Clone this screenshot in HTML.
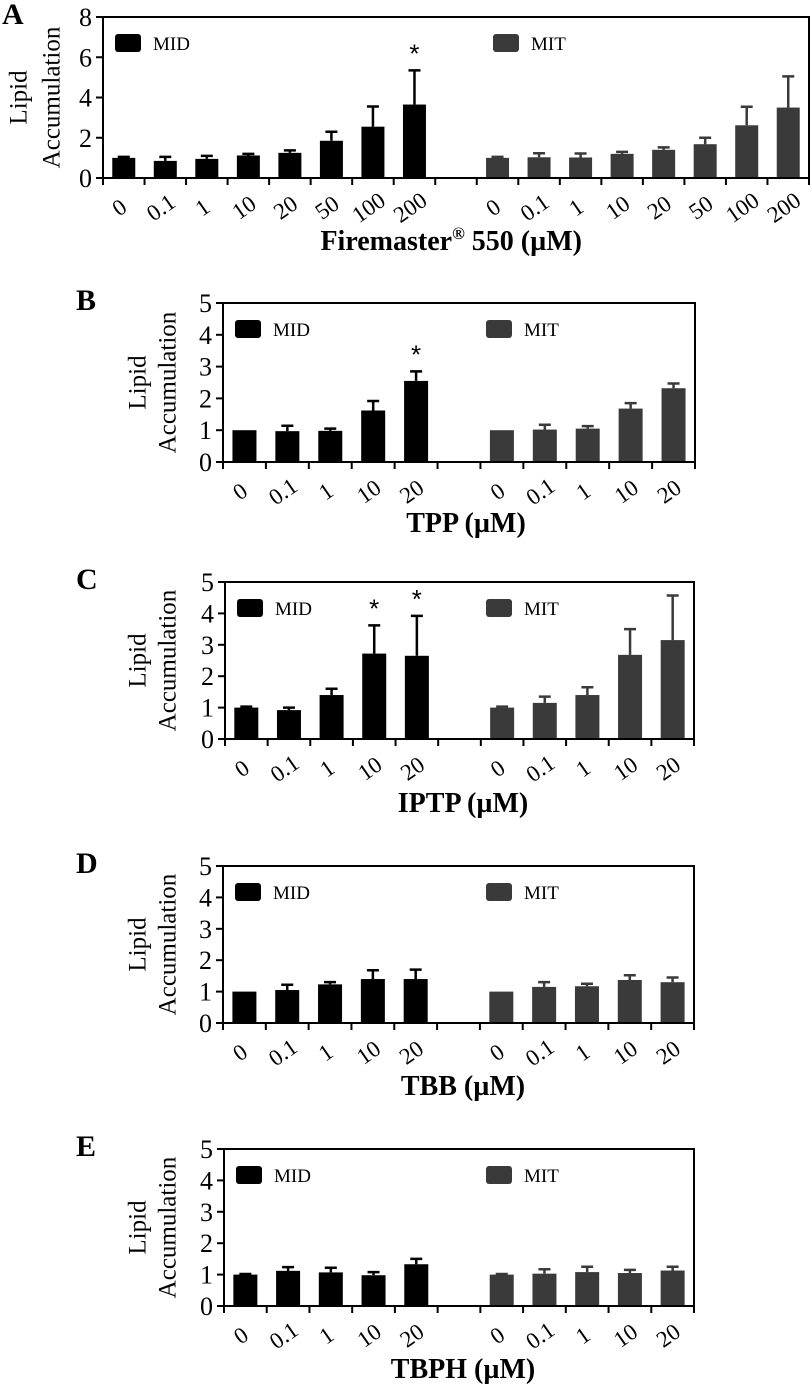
<!DOCTYPE html>
<html><head><meta charset="utf-8"><style>
body{margin:0;background:#fff;}
svg{display:block;font-family:"Liberation Serif",serif;}
</style></head><body>
<svg id="fig" width="812" height="1387" viewBox="0 0 812 1387"></svg>
<script>
// Panel A data
const catsA = ["0","0.1","1","10","20","50","100","200"];
const midA = [1.0,0.85,0.95,1.12,1.25,1.85,2.55,3.65];
const midErrA = [0.05,0.2,0.15,0.08,0.12,0.45,1.0,1.7];
const mitA = [1.0,1.03,1.02,1.2,1.4,1.68,2.62,3.5];
const mitErrA = [0.05,0.2,0.2,0.1,0.12,0.32,0.92,1.55];
const starA = [7];
// Panels B-E share categories
const catsBE = ["0","0.1","1","10","20"];
const midB = [1.0,0.97,0.98,1.62,2.55];
const midErrB = [0.0,0.17,0.07,0.3,0.3];
const mitB = [1.0,1.02,1.05,1.68,2.32];
const mitErrB = [0.0,0.15,0.08,0.17,0.15];
const starB = [4];
const midC = [1.0,0.92,1.4,2.72,2.65];
const midErrC = [0.03,0.08,0.2,0.9,1.27];
const mitC = [1.0,1.15,1.4,2.68,3.15];
const mitErrC = [0.03,0.2,0.25,0.82,1.42];
const starC = [3,4];
const midD = [1.0,1.05,1.23,1.4,1.4];
const midErrD = [0.0,0.17,0.07,0.28,0.3];
const mitD = [1.0,1.15,1.17,1.37,1.3];
const mitErrD = [0.0,0.15,0.08,0.15,0.15];
const starD = [];
const midE = [1.0,1.12,1.07,0.98,1.33];
const midErrE = [0.02,0.12,0.15,0.1,0.17];
const mitE = [1.0,1.03,1.08,1.05,1.13];
const mitErrE = [0.02,0.14,0.17,0.1,0.12];
const starE = [];
const yTicksA = [0,2,4,6,8];
const yTicksBE = [0,1,2,3,4,5];

const NS = "http://www.w3.org/2000/svg";
const svg = document.getElementById("fig");
function mk(tag, attrs, parent, text){
  const e = document.createElementNS(NS, tag);
  for (const k in attrs) e.setAttribute(k, attrs[k]);
  if (text !== undefined) e.textContent = text;
  (parent || svg).appendChild(e);
  return e;
}

const panels = [
  {id:"a", letter:"A", lx:2, ly:24, left:103, right:809, top:17, bottom:178, ymax:8, yt:yTicksA, cats:catsA, mid:midA, midE:midErrA, mit:mitA, mitE:mitErrA, stars:starA, bw:23, title:"Firemaster", sup:"®", title2:" 550 (µM)", tx:582, ty:250, anchor:"end", ytx:[19,52], mitx:493},
  {id:"b", letter:"B", lx:76, ly:310, left:223, right:695, top:303, bottom:462, ymax:5, yt:yTicksBE, cats:catsBE, mid:midB, midE:midErrB, mit:mitB, mitE:mitErrB, stars:starB, bw:24, title:"TPP (µM)", tx:466, ty:532, anchor:"middle", ytx:[138,168], mitx:486},
  {id:"c", letter:"C", lx:76, ly:589, left:225, right:694, top:582, bottom:739, ymax:5, yt:yTicksBE, cats:catsBE, mid:midC, midE:midErrC, mit:mitC, mitE:mitErrC, stars:starC, bw:24, title:"IPTP (µM)", tx:463, ty:812, anchor:"middle", ytx:[138,168], mitx:486},
  {id:"d", letter:"D", lx:76, ly:873, left:223, right:694, top:866, bottom:1023, ymax:5, yt:yTicksBE, cats:catsBE, mid:midD, midE:midErrD, mit:mitD, mitE:mitErrD, stars:starD, bw:24, title:"TBB (µM)", tx:463, ty:1095, anchor:"middle", ytx:[138,168], mitx:486},
  {id:"e", letter:"E", lx:76, ly:1156, left:224, right:694, top:1149, bottom:1306, ymax:5, yt:yTicksBE, cats:catsBE, mid:midE, midE:midErrE, mit:mitE, mitE:mitErrE, stars:starE, bw:24, title:"TBPH (µM)", tx:463, ty:1378, anchor:"middle", ytx:[138,168], mitx:486}
];

panels.forEach(p => {
  const g = mk("g", {});
  
  
  const n = p.cats.length;
  const slots = 2*n + 1;
  const sw = (p.right - p.left) / slots;
  const y = v => p.bottom - v / p.ymax * (p.bottom - p.top);
  const xc = i => p.left + (i + 0.5) * sw;

  const lt = mk("text", {x:p.lx, y:p.ly, "font-size":30, "font-weight":"bold"}, g, p.letter);
  
  

  function series(vals, errs, color, offset, name){
    vals.forEach((v, i) => {
      const cx = xc(i + offset);
      const r = mk("rect", {x:cx - p.bw/2, y:y(v), width:p.bw, height:p.bottom - y(v), fill:color}, g);
      
      
      if (errs[i] > 0.001) {
        const ye = y(v + errs[i]);
        const el = mk("path", {d:`M${cx} ${y(v)}V${ye}M${cx-6} ${ye}H${cx+6}`, stroke:color, "stroke-width":2.5, fill:"none"}, g);
        
        
      }
    });
  }
  series(p.mid, p.midE, "#000", 0, "mid");
  series(p.mit, p.mitE, "#3a3a3a", n + 1, "mit");

  p.stars.forEach(i => {
    const s = mk("text", {x:xc(i), y:y(p.mid[i] + p.midE[i]) - 8, "font-size":26, "text-anchor":"middle", "font-family":"Liberation Sans, sans-serif"}, g, "*");
    
    
  });

  const ax = mk("path", {d:`M${p.left} ${p.top}H${p.right}V${p.bottom}H${p.left}Z`, fill:"none", stroke:"#000", "stroke-width":2}, g);
  
  
  for (let k = 0; k <= slots; k++) {
    const tx = p.left + k * sw;
    const t = mk("line", {x1:tx, x2:tx, y1:p.bottom, y2:p.bottom + 7, stroke:"#000", "stroke-width":2}, g);
    
    
  }
  p.yt.forEach(v => {
    const t = mk("line", {x1:p.left - 7, x2:p.left, y1:y(v), y2:y(v), stroke:"#000", "stroke-width":2}, g);
    
    
    const l = mk("text", {x:p.left - 11, y:y(v) + 9, "font-size":26, "text-anchor":"end"}, g, String(v));
    
    
  });
  const all = p.cats.map((c,i)=>[c,i]).concat(p.cats.map((c,i)=>[c,i+n+1]));
  all.forEach(([c, i]) => {
    const cx = xc(i) - 4, cy = p.bottom + 37;
    const l = mk("text", {x:cx, y:cy, "font-size":23, "text-anchor":"middle", transform:`rotate(-35 ${cx} ${cy-7})`}, g, c);
    
    
  });
  const mid = (p.top + p.bottom) / 2;
  const yt1 = mk("text", {x:p.ytx[0], y:mid, "font-size":25, "text-anchor":"middle", "dominant-baseline":"central", transform:`rotate(-90 ${p.ytx[0]} ${mid})`}, g, "Lipid");
  
  
  const yt2 = mk("text", {x:p.ytx[1], y:mid, "font-size":25, "text-anchor":"middle", "dominant-baseline":"central", transform:`rotate(-90 ${p.ytx[1]} ${mid})`}, g, "Accumulation");
  
  
  const xt = mk("text", {x:p.tx, y:p.ty, "font-size":28, "font-weight":"bold", "text-anchor":p.anchor}, g);
  
  
  xt.appendChild(document.createTextNode(p.title));
  if (p.sup) {
    mk("tspan", {"font-size":17, dy:-11}, xt, p.sup);
    mk("tspan", {dy:11}, xt, p.title2);
  }
  const ly = p.top + 17;
  const lb = mk("rect", {x:p.left + 12, y:ly, width:26, height:18, rx:3, fill:"#000"}, g);
  
  
  const lmt = mk("text", {x:p.left + 50, y:ly + 16, "font-size":19}, g, "MID");
  
  
  const lb2 = mk("rect", {x:p.mitx, y:ly, width:26, height:18, rx:3, fill:"#3a3a3a"}, g);
  
  
  const lmt2 = mk("text", {x:p.mitx + 38, y:ly + 16, "font-size":19}, g, "MIT");
  
  
});
</script>
</body></html>
